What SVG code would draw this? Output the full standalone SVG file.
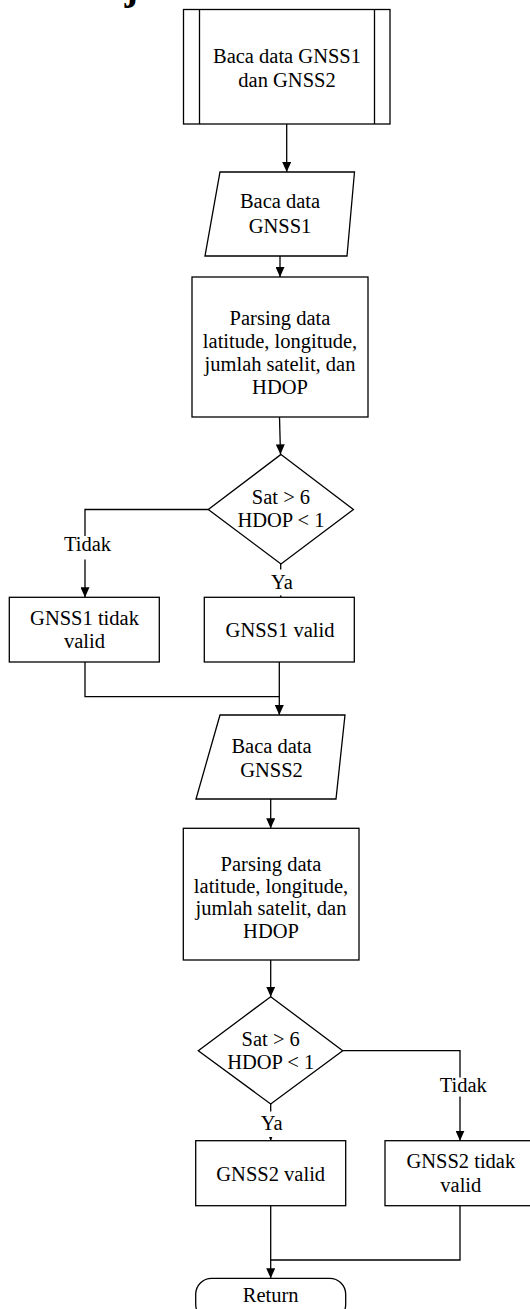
<svg xmlns="http://www.w3.org/2000/svg" width="530" height="1309" viewBox="0 0 530 1309">
<defs>
<marker id="arr" markerUnits="userSpaceOnUse" markerWidth="10" markerHeight="9" refX="10" refY="4.5" orient="auto"><path d="M0,0 L10,4.5 L0,9 z" fill="#000"/></marker>
</defs>
<style>
.s{fill:#fff;stroke:#000;stroke-width:1.3}
.c{fill:none;stroke:#000;stroke-width:1.3}
text{font-family:"Liberation Serif","Times New Roman",serif;font-size:20.5px;fill:#000;text-anchor:middle}
.bg{fill:#fff;stroke:none}
</style>
<rect width="530" height="1309" fill="#fff"/>
<text x="-2" y="-1" style="text-anchor:start;font-weight:bold;font-size:40px">an dan jumlah Satelit</text>

<g id="connectors">
<path class="c" d="M286.7,124 V172" marker-end="url(#arr)"/>
<path class="c" d="M280,256 V277" marker-end="url(#arr)"/>
<path class="c" d="M279.5,417 L280.5,454.4" marker-end="url(#arr)"/>
<path class="c" d="M208.3,509.5 H85 V597.3" marker-end="url(#arr)"/>
<path class="c" d="M280.7,564 V597.3" marker-end="url(#arr)"/>
<path class="c" d="M85,662 V696.7 H279.3"/>
<path class="c" d="M279.3,662 V715" marker-end="url(#arr)"/>
<path class="c" d="M270.7,799 V828.3" marker-end="url(#arr)"/>
<path class="c" d="M270.7,960 V996.7" marker-end="url(#arr)"/>
<path class="c" d="M342.7,1050.7 H460 V1140.7" marker-end="url(#arr)"/>
<path class="c" d="M270.7,1104 V1140.7" marker-end="url(#arr)"/>
<path class="c" d="M460,1205.7 V1260 H270.7"/>
<path class="c" d="M270.7,1205.7 V1278.3" marker-end="url(#arr)"/>
<g id="label-tidak1"><rect class="bg" x="62" y="536" width="50" height="23.5"/><text x="87.5" y="551">Tidak</text></g>
<g id="label-ya1"><rect class="bg" x="268" y="569.5" width="26" height="26"/><text x="282" y="588.6">Ya</text></g>
<g id="label-tidak2"><rect class="bg" x="436" y="1077.5" width="54" height="19"/><text x="463.3" y="1092.3">Tidak</text></g>
<g id="label-ya2"><rect class="bg" x="258" y="1111.5" width="27" height="25.5"/><text x="271.7" y="1130">Ya</text></g>
</g>

<g id="n-start">
<rect class="s" x="183.5" y="9.5" width="206.5" height="114.5"/>
<path class="c" d="M199.5,9.5 V124 M374.5,9.5 V124"/>
<text x="287" y="63">Baca data GNSS1</text>
<text x="287" y="87">dan GNSS2</text>
</g>

<g id="n-read1">
<path class="s" d="M220,172 H354.5 L347,256 H205 Z"/>
<text x="280" y="208">Baca data</text>
<text x="280" y="233">GNSS1</text>
</g>

<g id="n-parse1">
<rect class="s" x="192" y="277" width="176" height="140"/>
<text x="280" y="325">Parsing data</text>
<text x="280" y="348">latitude, longitude,</text>
<text x="280" y="371">jumlah satelit, dan</text>
<text x="280" y="394">HDOP</text>
</g>

<g id="n-dec1">
<path class="s" d="M281,454.4 L353.4,509.5 L281,564 L208.3,509.5 Z"/>
<text x="281" y="503.6">Sat &gt; 6</text>
<text x="281" y="527.4">HDOP &lt; 1</text>
</g>

<g id="n-inv1">
<rect class="s" x="9.3" y="597.3" width="150" height="64.7"/>
<text x="84.5" y="625">GNSS1 tidak</text>
<text x="84.5" y="648">valid</text>
</g>

<g id="n-val1">
<rect class="s" x="204.3" y="597.3" width="150" height="64.7"/>
<text x="280" y="636.7">GNSS1 valid</text>
</g>

<g id="n-read2">
<path class="s" d="M220,715 H345 L336,799 H196 Z"/>
<text x="271.5" y="752.7">Baca data</text>
<text x="271.5" y="776.7">GNSS2</text>
</g>

<g id="n-parse2">
<rect class="s" x="183.3" y="828.3" width="175.7" height="131.7"/>
<text x="271" y="871">Parsing data</text>
<text x="271" y="893">latitude, longitude,</text>
<text x="271" y="915">jumlah satelit, dan</text>
<text x="271" y="938">HDOP</text>
</g>

<g id="n-dec2">
<path class="s" d="M270.7,996.7 L342.7,1050.7 L270.7,1104 L198.3,1050.7 Z"/>
<text x="270.7" y="1045.7">Sat &gt; 6</text>
<text x="270.7" y="1069">HDOP &lt; 1</text>
</g>

<g id="n-val2">
<rect class="s" x="195.7" y="1140.7" width="150" height="65"/>
<text x="270.7" y="1180.7">GNSS2 valid</text>
</g>

<g id="n-inv2">
<rect class="s" x="385" y="1140.7" width="150" height="65"/>
<text x="460.8" y="1168.3">GNSS2 tidak</text>
<text x="460.8" y="1191.7">valid</text>
</g>

<g id="n-return">
<rect class="s" x="195.7" y="1278.3" width="150" height="42" rx="16"/>
<text x="270.7" y="1301.7">Return</text>
</g>
</svg>
